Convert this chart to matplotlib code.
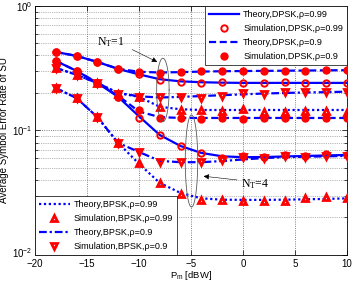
import numpy as np
import matplotlib
matplotlib.use("Agg")
import matplotlib.pyplot as plt
import matplotlib.transforms as mtransforms
from matplotlib.lines import Line2D
from matplotlib.ticker import LogLocator, NullFormatter

plt.rcParams['font.family'] = ['Liberation Sans', 'DejaVu Sans']

# ---------------- data ----------------
pm = [-18, -16, -14, -12, -10, -8, -6, -4, -2, 0, 2, 4, 6, 8, 10]

# N_T = 1
th_dpsk099_1 = [0.427, 0.397, 0.355, 0.312, 0.282, 0.258, 0.248, 0.244, 0.242, 0.241, 0.241, 0.241, 0.241, 0.241, 0.241]
sim_dpsk099_1 = [0.427, 0.397, 0.355, 0.312, 0.283, 0.255, 0.244, 0.242, 0.243, 0.240, 0.241, 0.243, 0.239, 0.242, 0.241]
th_dpsk09_1 = [0.427, 0.397, 0.355, 0.313, 0.296, 0.292, 0.294, 0.297, 0.299, 0.300, 0.301, 0.302, 0.303, 0.304, 0.305]
sim_dpsk09_1 = [0.428, 0.396, 0.356, 0.312, 0.295, 0.288, 0.293, 0.298, 0.299, 0.301, 0.302, 0.303, 0.302, 0.305, 0.305]
th_bpsk09_1 = [0.318, 0.280, 0.240, 0.200, 0.188, 0.184, 0.186, 0.189, 0.192, 0.195, 0.198, 0.200, 0.202, 0.203, 0.205]
sim_bpsk09_1 = [0.318, 0.279, 0.240, 0.196, 0.186, 0.184, 0.184, 0.182, 0.190, 0.200, 0.198, 0.203, 0.205, 0.204, 0.205]
th_bpsk099_1 = [0.318, 0.280, 0.240, 0.200, 0.186, 0.155, 0.148, 0.146, 0.146, 0.146, 0.146, 0.146, 0.146, 0.146, 0.146]
sim_bpsk099_1 = [0.318, 0.279, 0.240, 0.196, 0.186, 0.154, 0.146, 0.146, 0.144, 0.148, 0.141, 0.142, 0.144, 0.143, 0.141]

# N_T = 4
th_dpsk099_4 = [0.362, 0.301, 0.241, 0.186, 0.130, 0.092, 0.075, 0.066, 0.062, 0.061, 0.0612, 0.0618, 0.0624, 0.063, 0.0636]
sim_dpsk099_4 = [0.362, 0.300, 0.242, 0.186, 0.126, 0.092, 0.0751, 0.0659, 0.0600, 0.0624, 0.0615, 0.0640, 0.0625, 0.0645, 0.0637]
th_dpsk09_4 = [0.362, 0.301, 0.241, 0.190, 0.142, 0.128, 0.126, 0.126, 0.126, 0.126, 0.126, 0.126, 0.126, 0.126, 0.126]
sim_dpsk09_4 = [0.363, 0.301, 0.241, 0.186, 0.146, 0.126, 0.127, 0.124, 0.126, 0.124, 0.125, 0.127, 0.126, 0.125, 0.126]
th_bpsk09_4 = [0.219, 0.182, 0.128, 0.0794, 0.0672, 0.057, 0.0556, 0.0556, 0.0568, 0.0585, 0.060, 0.061, 0.0615, 0.062, 0.0625]
sim_bpsk09_4 = [0.219, 0.182, 0.128, 0.0794, 0.0672, 0.0558, 0.0555, 0.0558, 0.058, 0.0612, 0.060, 0.0625, 0.061, 0.0625, 0.062]
th_bpsk099_4 = [0.219, 0.182, 0.128, 0.0794, 0.054, 0.0379, 0.0315, 0.0285, 0.0278, 0.0277, 0.0277, 0.0278, 0.028, 0.0282, 0.0285]
sim_bpsk099_4 = [0.219, 0.182, 0.128, 0.0794, 0.0548, 0.0379, 0.031, 0.0277, 0.0277, 0.0272, 0.0272, 0.0272, 0.0285, 0.0292, 0.0287]

labels_top = ['Theory,DPSK,\u03c1=0.99', 'Simulation,DPSK,\u03c1=0.99',
              'Theory,DPSK,\u03c1=0.9', 'Simulation,DPSK,\u03c1=0.9']
labels_bot = ['Theory,BPSK,\u03c1=0.99', 'Simulation,BPSK,\u03c1=0.99',
              'Theory,BPSK,\u03c1=0.9', 'Simulation,BPSK,\u03c1=0.9']

# ---------------- styles ----------------
BLUE = (0, 0, 1)
RED = (1, 0, 0)
LW = 1.6
ls_solid = '-'
ls_dash = (0, (3.2, 1.6))
ls_dot = (0, (1.0, 1.2))
ls_dashdot = (0, (3.5, 1.3, 1.0, 1.3))

mk = {
    'open': dict(marker='o', ms=4.6, mfc='none', mec=RED, mew=1.4),
    'fill': dict(marker='o', ms=5.0, mfc=RED, mec=RED, mew=1.0),
    'up': dict(marker='^', ms=4.8, mfc='none', mec=RED, mew=2.0),
    'down': dict(marker='v', ms=4.8, mfc='none', mec=RED, mew=2.0),
}

fig = plt.figure(figsize=(3.53, 2.83), dpi=100)
ax = fig.add_axes([0.099, 0.099, 0.884, 0.880])

series = [
    (th_dpsk099_1, sim_dpsk099_1, ls_solid, 'open'),
    (th_dpsk09_1, sim_dpsk09_1, ls_dash, 'fill'),
    (th_bpsk099_1, sim_bpsk099_1, ls_dot, 'up'),
    (th_bpsk09_1, sim_bpsk09_1, ls_dashdot, 'down'),
    (th_dpsk099_4, sim_dpsk099_4, ls_solid, 'open'),
    (th_dpsk09_4, sim_dpsk09_4, ls_dash, 'fill'),
    (th_bpsk099_4, sim_bpsk099_4, ls_dot, 'up'),
    (th_bpsk09_4, sim_bpsk09_4, ls_dashdot, 'down'),
]
for th, sim, ls, m in series:
    ax.plot(pm, th, color=BLUE, lw=LW, linestyle=ls, zorder=3)
for th, sim, ls, m in series:
    ax.plot(pm, sim, linestyle='none', zorder=4, **mk[m])

ax.set_yscale('log')
ax.set_xlim(-20, 10)
ax.set_ylim(1e-2, 1)
ax.set_xticks([-20, -15, -10, -5, 0, 5, 10])
ax.yaxis.set_major_locator(LogLocator(base=10, numticks=5))
ax.yaxis.set_minor_locator(LogLocator(base=10, subs=np.arange(2, 10), numticks=10))
ax.yaxis.set_minor_formatter(NullFormatter())
ax.tick_params(which='both', direction='in', top=True, right=True, labelsize=7, width=0.5)
ax.tick_params(which='major', length=3.5, pad=2)
ax.tick_params(axis='x', which='major', pad=3)
ax.tick_params(which='minor', length=2)
ax.grid(True, which='major', linestyle=':', color='0.35', lw=0.6)
ax.grid(True, which='minor', axis='y', linestyle=':', color='0.45', lw=0.5)
for s in ax.spines.values():
    s.set_linewidth(0.6)

# nudge only the lowest y tick label up slightly so it clears the x tick label
shift = mtransforms.ScaledTranslation(0, 2.0 / 72, fig.dpi_scale_trans)
for loc, lab in zip(ax.get_yticks(), ax.get_yticklabels()):
    if np.isclose(loc, 1e-2):
        lab.set_transform(lab.get_transform() + shift)

ax.set_xlabel(r'P$_\mathregular{m}$ [dBW]', fontsize=6.8)
ax.xaxis.set_label_coords(0.5, -0.056)
ax.set_ylabel('Average Symbol Error Rate of SU', fontsize=7)
ax.yaxis.set_label_coords(-0.083, 0.5)

# ellipses (annotation)
t = np.linspace(0, 2 * np.pi, 200)
for cx, cl, a, b in [(-7.7, -0.675, 0.6, 0.255), (-4.95, -1.245, 0.6, 0.37)]:
    ax.plot(cx + a * np.cos(t), 10 ** (cl + b * np.sin(t)), color='0.35', lw=0.6, zorder=5)

ax.annotate('', xy=(-8.0, 10 ** -0.46), xytext=(-10.9, 10 ** -0.34),
            arrowprops=dict(arrowstyle='-|>', color='k', lw=0.4, mutation_scale=8), zorder=6)
ax.text(-14.05, 10 ** -0.29, r'$\mathregular{N_T}$=1', fontsize=8.5,
        family='Liberation Serif', ha='left', va='center', zorder=6)
ax.annotate('', xy=(-4.05, 10 ** -1.365), xytext=(-0.3, 10 ** -1.40),
            arrowprops=dict(arrowstyle='-|>', color='k', lw=0.4, mutation_scale=8), zorder=6)
ax.text(-0.2, 10 ** -1.43, r'$\mathregular{N_T}$=4', fontsize=8.5,
        family='Liberation Serif', ha='left', va='center', zorder=6)

# legends
def handles(ls1, mk1, ls2, mk2):
    return [Line2D([], [], color=BLUE, lw=LW, linestyle=ls1),
            Line2D([], [], linestyle='none', **mk[mk1]),
            Line2D([], [], color=BLUE, lw=LW, linestyle=ls2),
            Line2D([], [], linestyle='none', **mk[mk2])]

legkw = dict(fontsize=6.5, handlelength=3.4, handletextpad=0.4, borderpad=0.45,
             labelspacing=0.55, borderaxespad=0, fancybox=False, framealpha=1,
             edgecolor='k')
leg1 = ax.legend(handles(ls_solid, 'open', ls_dash, 'fill'), labels_top,
                 loc='upper right', bbox_to_anchor=(1, 1), **legkw)
leg1.get_frame().set_linewidth(0.5)
leg1.set_zorder(10)
ax.add_artist(leg1)
leg2 = ax.legend(handles(ls_dot, 'up', ls_dashdot, 'down'), labels_bot,
                 loc='lower left', bbox_to_anchor=(0, 0), **legkw)
leg2.get_frame().set_linewidth(0.5)
leg2.set_zorder(10)

fig.savefig('out.png', dpi=100)
